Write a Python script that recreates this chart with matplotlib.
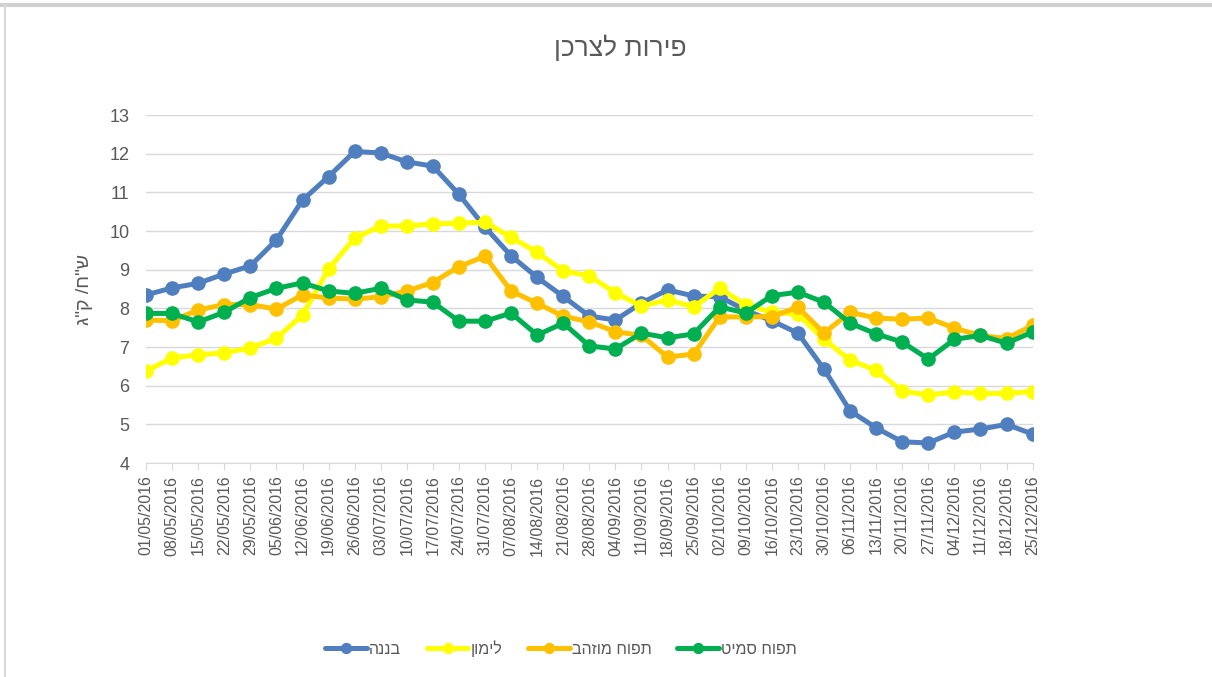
"""Precios semanales de fruta al consumidor (2016)."""

import matplotlib

matplotlib.use("Agg")

import matplotlib.pyplot as plt  # noqa: E402
from matplotlib.lines import Line2D  # noqa: E402

TEXT = "#595959"
GRID = "#d9d9d9"

plt.rcParams.update(
    {
        "font.family": ["Liberation Sans", "DejaVu Sans"],
        "font.size": 10,
        "figure.facecolor": "white",
        "axes.facecolor": "white",
    }
)

dates = [
    "01/05/2016", "08/05/2016", "15/05/2016", "22/05/2016", "29/05/2016",
    "05/06/2016", "12/06/2016", "19/06/2016", "26/06/2016", "03/07/2016",
    "10/07/2016", "17/07/2016", "24/07/2016", "31/07/2016", "07/08/2016",
    "14/08/2016", "21/08/2016", "28/08/2016", "04/09/2016", "11/09/2016",
    "18/09/2016", "25/09/2016", "02/10/2016", "09/10/2016", "16/10/2016",
    "23/10/2016", "30/10/2016", "06/11/2016", "13/11/2016", "20/11/2016",
    "27/11/2016", "04/12/2016", "11/12/2016", "18/12/2016", "25/12/2016",
]

banana = [
    8.35, 8.53, 8.65, 8.89, 9.1, 9.77, 10.8, 11.41, 12.06, 12.02,
    11.79, 11.68, 10.95, 10.1, 9.36, 8.8, 8.31, 7.8, 7.7, 8.14,
    8.48, 8.32, 8.3, 7.95, 7.68, 7.36, 6.43, 5.35, 4.91, 4.55,
    4.52, 4.8, 4.88, 5.0, 4.75,
]
lemon = [
    6.38, 6.72, 6.8, 6.85, 6.98, 7.23, 7.83, 9.02, 9.82, 10.13,
    10.13, 10.19, 10.2, 10.23, 9.84, 9.45, 8.97, 8.84, 8.4, 8.06,
    8.22, 8.04, 8.52, 8.09, 7.9, 7.85, 7.2, 6.66, 6.4, 5.86,
    5.76, 5.84, 5.8, 5.8, 5.85,
]
golden = [
    7.7, 7.68, 7.96, 8.1, 8.1, 7.98, 8.35, 8.27, 8.24, 8.3,
    8.45, 8.67, 9.08, 9.35, 8.45, 8.13, 7.8, 7.65, 7.4, 7.3,
    6.74, 6.82, 7.78, 7.78, 7.79, 8.03, 7.36, 7.9, 7.75, 7.72,
    7.75, 7.49, 7.3, 7.22, 7.56,
]
smith = [
    7.87, 7.87, 7.65, 7.9, 8.28, 8.52, 8.66, 8.45, 8.39, 8.52,
    8.22, 8.16, 7.67, 7.67, 7.88, 7.31, 7.62, 7.03, 6.95, 7.36,
    7.24, 7.34, 8.04, 7.88, 8.33, 8.42, 8.16, 7.62, 7.34, 7.13,
    6.69, 7.2, 7.3, 7.1, 7.39,
]

series = [
    ("בננה", banana, "#4f7fbe"),
    ("לימון", lemon, "#ffff00"),
    ("תפוח מוזהב", golden, "#ffc000"),
    ("תפוח סמיט", smith, "#00b050"),
]


def rtl(s):
    # matplotlib no hace bidi: se invierte el texto hebreo a orden visual
    return s[::-1]


fig = plt.figure(figsize=(12.12, 6.77), dpi=100)
ax = fig.add_axes([0.1205, 0.316, 0.7315, 0.514])

x = list(range(len(dates)))
for name, values, color in series:
    ax.plot(x, values, color=color, linewidth=3.6, marker="o",
            markersize=9.5, label=rtl(name), solid_capstyle="round")

ax.set_xlim(0, len(dates) - 1)
ax.set_ylim(4, 13)
ax.set_yticks(range(4, 14))
ax.set_xticks(x)
ax.set_xticklabels(dates, rotation=90, fontsize=11.5, color=TEXT)
ax.tick_params(axis="y", length=0, labelsize=13, colors=TEXT, pad=12)
ax.tick_params(axis="x", length=5, color=GRID, pad=4)
ax.grid(True, axis="y", color=GRID, linewidth=1)
ax.set_axisbelow(True)
for side in ("left", "right", "top"):
    ax.spines[side].set_visible(False)
ax.spines["bottom"].set_color(GRID)

ax.set_ylabel(rtl('ש"ח/ ק"ג'), fontsize=14, color=TEXT, labelpad=12)
fig.text(0.512, 0.93, rtl("פירות לצרכן"), ha="center", va="center",
         fontsize=19, color=TEXT)

leg = fig.legend(loc="center", bbox_to_anchor=(0.463, 0.042), ncol=4,
                 frameon=False, fontsize=11.5, labelcolor=TEXT,
                 handlelength=2.6, columnspacing=1.6, handletextpad=0.15,
                 markerscale=0.75)

# marco gris de la captura
fig.add_artist(Line2D([0, 1], [0.993, 0.993], color="#d0d0d0", linewidth=3,
                      transform=fig.transFigure))
fig.add_artist(Line2D([0.004, 0.004], [0, 0.993], color="#d9d9d9",
                      linewidth=1.5, transform=fig.transFigure))

fig.savefig("out.png", dpi=100)
plt.close(fig)
